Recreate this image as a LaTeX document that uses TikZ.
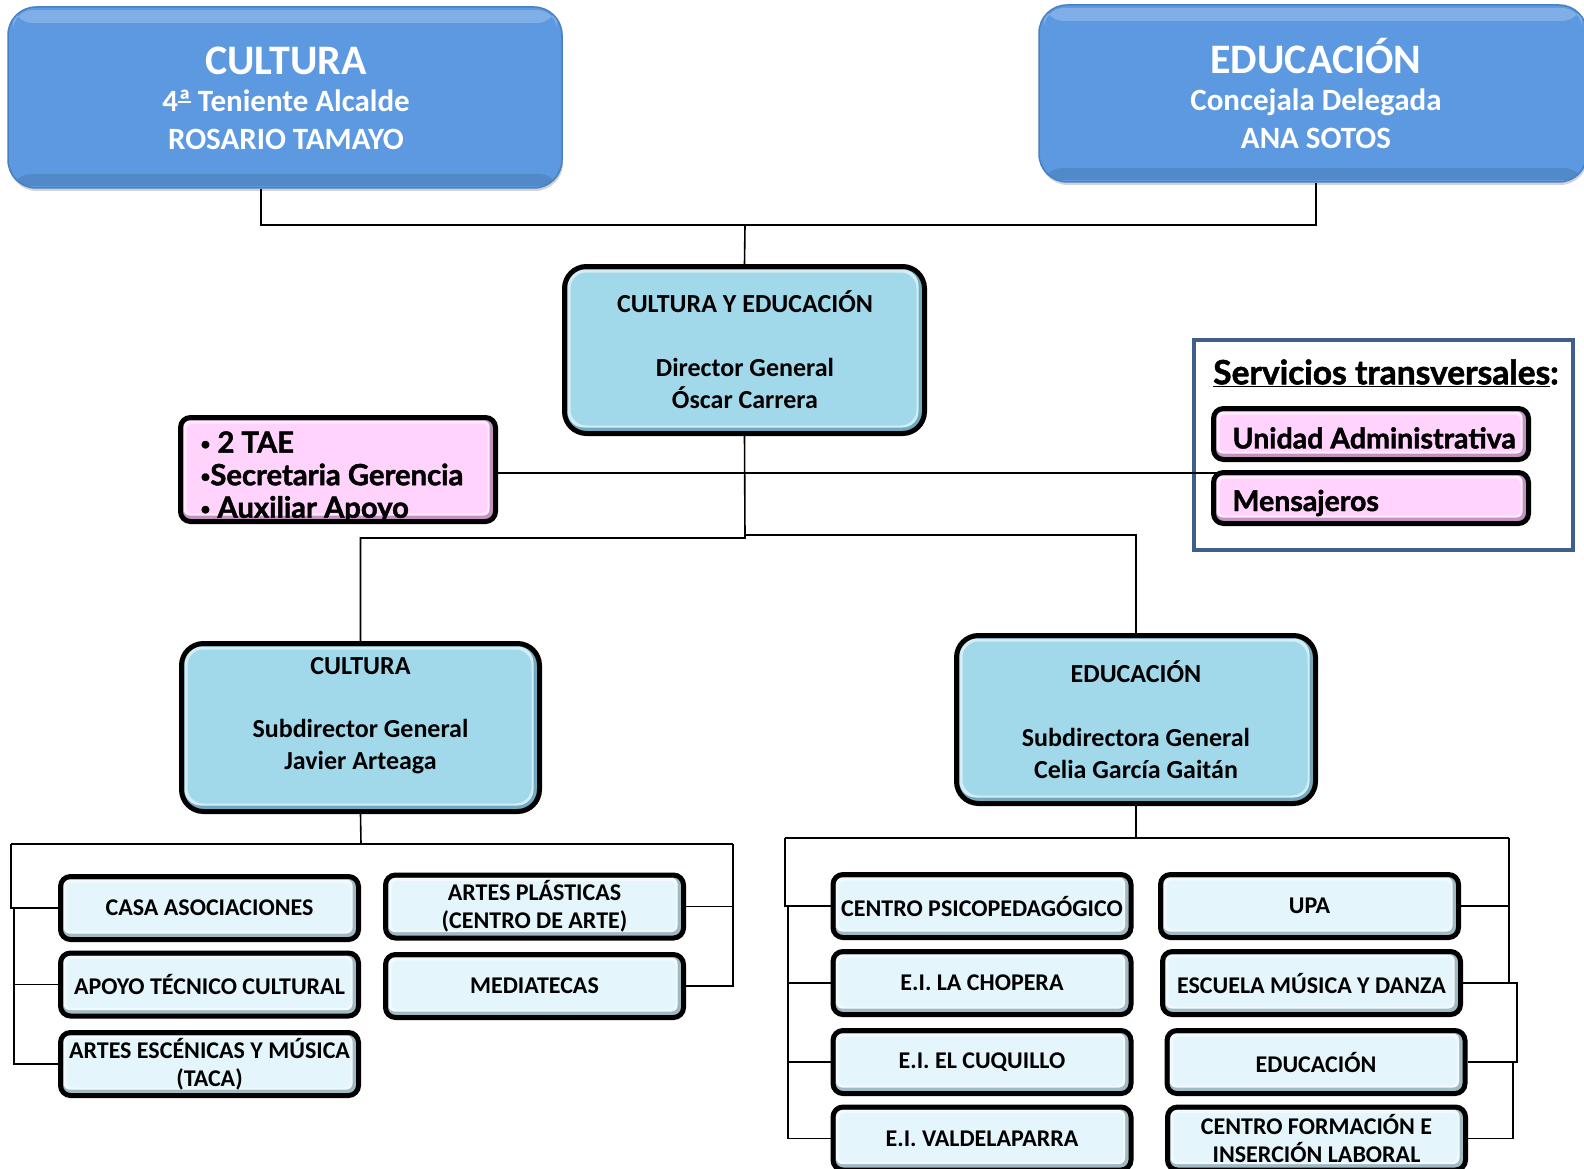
\documentclass[tikz,border=0pt]{standalone}
\usepackage{fontspec}
\setmainfont{Carlito}
\newfontfamily\gill{Lato}[BoldFeatures={FakeBold=1.6}]
\usetikzlibrary{shadows}
\definecolor{topblue}{RGB}{92,153,224}
\definecolor{topedge}{RGB}{72,128,198}
\definecolor{cyanface}{RGB}{161,217,235}
\definecolor{cyanrim}{RGB}{112,170,192}
\definecolor{pinkface}{RGB}{255,211,251}
\definecolor{pinkrim}{RGB}{196,146,192}
\definecolor{leafface}{RGB}{228,245,251}
\definecolor{leafrim}{RGB}{160,186,196}
\definecolor{framecol}{RGB}{62,95,140}
\newcommand\pbul{\raisebox{3pt}{\fontsize{17}{17}\selectfont •}}
\newlength\oaw
\newcommand\ordA{\settowidth\oaw{ª}ª\kern-\oaw\raisebox{8.5pt}{\rule{\oaw}{2pt}}}
\tikzset{
  conn/.style={draw=black, line width=1.6pt},
  topbox/.style={draw=topedge, line width=1.5pt, fill=topblue, rounded corners=28pt,
    drop shadow={opacity=0.35, shadow xshift=1pt, shadow yshift=-3pt},
    path picture={
      \fill[white, opacity=0.22, rounded corners=20pt] ([shift={(5pt,-16pt)}]path picture bounding box.north west) rectangle ([shift={(-5pt,-3pt)}]path picture bounding box.north east);
      \fill[black, opacity=0.10, rounded corners=20pt] ([shift={(3pt,2pt)}]path picture bounding box.south west) rectangle ([shift={(-3pt,14pt)}]path picture bounding box.south east);
    }},
  toptext/.style={text=white, font=\fontsize{31}{37.5}\selectfont\bfseries, align=center},
  bev/.style n args={4}{draw=black, line width=5pt, rounded corners=#3, fill=#2,
    path picture={
      \fill[white!55!#1, rounded corners=#4] ([shift={(3pt,6pt)}]path picture bounding box.south west) rectangle ([shift={(-6pt,-3pt)}]path picture bounding box.north east);
      \fill[#1, rounded corners=#4] ([shift={(6pt,8pt)}]path picture bounding box.south west) rectangle ([shift={(-8pt,-6pt)}]path picture bounding box.north east);
    }},
  bigbox/.style={bev={cyanface}{cyanrim}{22pt}{16pt}, inner sep=0pt},
  pinkbox/.style={bev={pinkface}{pinkrim}{10pt}{6pt}, inner sep=0pt},
  leaf/.style={bev={leafface}{leafrim}{10pt}{6pt}, minimum width=298pt, minimum height=63pt,
    inner sep=0pt, align=center, font=\fontsize{24}{28}\selectfont\bfseries},
  bigtext/.style={align=center, font=\fontsize{26}{32}\selectfont\bfseries},
  pinktext/.style={align=left, anchor=west, font=\gill\fontsize{28.5}{32.5}\selectfont\bfseries},
}
\begin{document}
\begin{tikzpicture}[x=1pt, y=-1pt]
\useasboundingbox (0,0) rectangle (1584,1169);

% ---- top boxes
\node[topbox, minimum width=554pt, minimum height=181pt] (T1) at (285,97.5) {};
\node[toptext] (T1t) at (286,98) {{\fontsize{42}{42}\selectfont CULTURA}\\4\ordA{} Teniente Alcalde\\ROSARIO TAMAYO};
\node[topbox, minimum width=548pt, minimum height=177pt] (T2) at (1313,93.5) {};
\node[toptext] (T2t) at (1316,93) {{\fontsize{42}{42}\selectfont EDUCACIÓN}\\Concejala Delegada\\ANA SOTOS};

\coordinate (k1) at (261,225);
\coordinate (k2) at (1316,225);
\coordinate (kt) at (745,225);

% ---- director
\node[bigbox, minimum width=360pt, minimum height=167pt] (CyE) at (744.5,350) {};
\node[bigtext] (CyEt) at (745,350) {CULTURA Y EDUCACIÓN\\[32pt]Director General\\Óscar Carrera};

\draw[conn] (k1 |- T1.south) -- (k1) -- (k2) -- (k2 |- T2.south);
\draw[conn] (kt) -- (CyE.north);

% ---- services frame
\node[draw=framecol, line width=3.5pt, minimum width=379pt, minimum height=210pt, inner sep=0pt] (ST) at (1383.5,445) {};
\node[font=\gill\fontsize{33.5}{38}\selectfont\bfseries, inner sep=0pt] (STt) at (1386,373) {\underline{Servicios transversales}:};

\coordinate (k5) at (1369,473);
% pink staff box
\node[pinkbox, minimum width=315pt, minimum height=104pt] (P) at (338,469.5) {};
\draw[conn] (P.east |- k5) -- (k5);
\node[pinktext, font=\gill\fontsize{29.2}{32.5}\selectfont\bfseries] (Pt) at (197,477) {\pbul\ 2 TAE\\\pbul Secretaria Gerencia\\\pbul\ Auxiliar Apoyo};

\node[pinkbox, minimum width=315pt, minimum height=51pt] (UA) at (1371,434) {};
\node[pinktext] (UAt) at (1229,438) {Unidad Administrativa};
\node[pinkbox, minimum width=315pt, minimum height=51pt] (MS) at (1371,498) {};
\node[pinktext] (MSt) at (1229,503) {Mensajeros};

% ---- sub-directors
\node[bigbox, minimum width=358pt, minimum height=168pt] (CS) at (360.5,727.5) {};
\node[bigtext] (CSt) at (360.5,716) {CULTURA\\[31pt]Subdirector General\\Javier Arteaga};
\node[bigbox, minimum width=359pt, minimum height=168pt] (CE) at (1136,719.5) {};
\node[bigtext] (CEt) at (1136,720) {EDUCACIÓN\\[32pt]Subdirectora General\\Celia García Gaitán};

\coordinate (k3) at (745,538);
\coordinate (k4) at (745,535);
\draw[conn] (CyE.south) -- (k3) -| (CS.north);
\draw[conn] (k4) -| (CE.north);

% ---- cultura units
\node[leaf] (L1) at (209.5,908) {CASA ASOCIACIONES};
\node[leaf] (L2) at (209.5,984.5) {APOYO TÉCNICO CULTURAL};
\node[leaf] (L3) at (209.5,1064) {ARTES ESCÉNICAS Y MÚSICA\\(TACA)};
\node[leaf] (L4) at (534.5,906.5) {ARTES PLÁSTICAS\\(CENTRO DE ARTE)};
\node[leaf] (L5) at (534.5,986) {MEDIATECAS};

\coordinate (k6) at (361,844);
\coordinate (k7) at (11,844);
\coordinate (k8) at (733,844);
\coordinate (k9) at (14,908);
\draw[conn] (CS.south) -- (k6);
\draw[conn] (k7) -- (k8);
\draw[conn] (k7) |- (L1.west);
\draw[conn] (k9) |- (L2.west);
\draw[conn] (k9) |- (L3.west);
\draw[conn] (k8) |- (L4.east);
\draw[conn] (k8) |- (L5.east);

% ---- educacion units
\node[leaf] (R1) at (982,906) {CENTRO PSICOPEDAGÓGICO};
\node[leaf] (R2) at (982,983) {E.I. LA CHOPERA};
\node[leaf] (R3) at (982,1062) {E.I. EL CUQUILLO};
\node[leaf] (R4) at (982,1138.5) {E.I. VALDELAPARRA};
\node[leaf] (R5) at (1309.5,906) {UPA};
\node[leaf] (R6) at (1311.5,983) {ESCUELA MÚSICA Y DANZA};
\node[leaf] (R7) at (1316,1062) {EDUCACIÓN};
\node[leaf] (R8) at (1316.5,1138.5) {CENTRO FORMACIÓN E\\INSERCIÓN LABORAL};

\coordinate (m1) at (1136,838);
\coordinate (m2) at (785,838);
\coordinate (m3) at (1509,838);
\coordinate (m4) at (788,906);
\coordinate (m5) at (1517,983);
\coordinate (m6) at (1513,1062);
\draw[conn] (CE.south) -- (m1);
\draw[conn] (m2) -- (m3);
\draw[conn] (m2) |- (R1.west);
\draw[conn] (m4) |- (R2.west);
\draw[conn] (m4) |- (R3.west);
\draw[conn] (m4) |- (R4.west);
\draw[conn] (m3) |- (R5.east);
\draw[conn] (m3) |- (R6.east);
\draw[conn] (R6.east) -- (m5) |- (R7.east);
\draw[conn] (m6) |- (R8.east);
\end{tikzpicture}
\end{document}
